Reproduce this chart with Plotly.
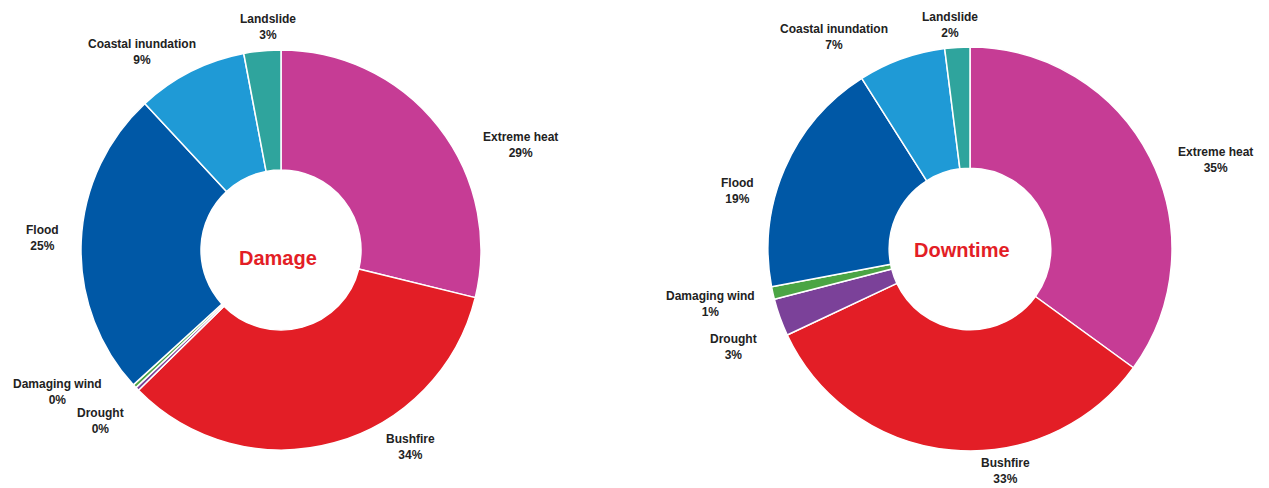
import plotly.graph_objects as go

# Hazard categories, in clockwise order from 12 o'clock
categories = ["Extreme heat", "Bushfire", "Drought", "Damaging wind",
              "Flood", "Coastal inundation", "Landslide"]

# Share of each hazard (per cent)
damage_values = [29, 34, 0.3, 0.3, 25, 9, 3]
downtime_values = [35, 33, 3, 1, 19, 7, 2]

colors = ["#C63C95", "#E31E26", "#7B4199", "#4BA544",
          "#0058A6", "#1F9AD6", "#2FA49D"]

W, H = 1269, 488
FONT = "Liberation Sans, Arial, sans-serif"

# Label anchor points (pixels, text-block centres) for each chart
damage_label_px = [(520, 145), (410, 447), (100, 421), (58, 392),
                   (42, 238), (142, 52), (268, 27)]
downtime_label_px = [(1215, 160), (1005, 471), (734, 347), (710, 304),
                     (738, 191), (834, 37), (950, 25)]

# Pie domains (pixel boxes: x0, x1, y0, y1 from top)
damage_box = (81, 481, 50, 450)
downtime_box = (768, 1172, 47, 451)

# Centre titles with their pixel positions
centre_titles = [("Damage", (278, 258)), ("Downtime", (962, 250))]


def domain(box):
    x0, x1, y0, y1 = box
    return dict(x=[x0 / W, x1 / W], y=[1 - y1 / H, 1 - y0 / H])


fig = go.Figure()
for vals, box in ((damage_values, damage_box), (downtime_values, downtime_box)):
    fig.add_trace(go.Pie(
        labels=categories, values=vals, hole=0.4, sort=False,
        direction="clockwise", rotation=0,
        marker=dict(colors=colors, line=dict(color="white", width=1.5)),
        textinfo="none", hoverinfo="label+percent",
        domain=domain(box), showlegend=False,
    ))

annotations = []
for vals, pos in ((damage_values, damage_label_px), (downtime_values, downtime_label_px)):
    total = sum(vals)
    for name, v, (px, py) in zip(categories, vals, pos):
        annotations.append(dict(
            x=px / W, y=1 - py / H, xref="paper", yref="paper",
            text=f"<b>{name}<br>{round(v / total * 100)}%</b>",
            showarrow=False, xanchor="center", yanchor="middle",
            font=dict(family=FONT, size=12, color="#222222"),
        ))

for title, (px, py) in centre_titles:
    annotations.append(dict(
        x=px / W, y=1 - py / H, xref="paper", yref="paper",
        text=f"<b>{title}</b>",
        showarrow=False, xanchor="center", yanchor="middle",
        font=dict(family=FONT, size=20, color="#E31E26"),
    ))

fig.update_layout(
    width=W, height=H, margin=dict(l=0, r=0, t=0, b=0),
    paper_bgcolor="white", plot_bgcolor="white",
    annotations=annotations,
)

fig.write_html("out.html")
